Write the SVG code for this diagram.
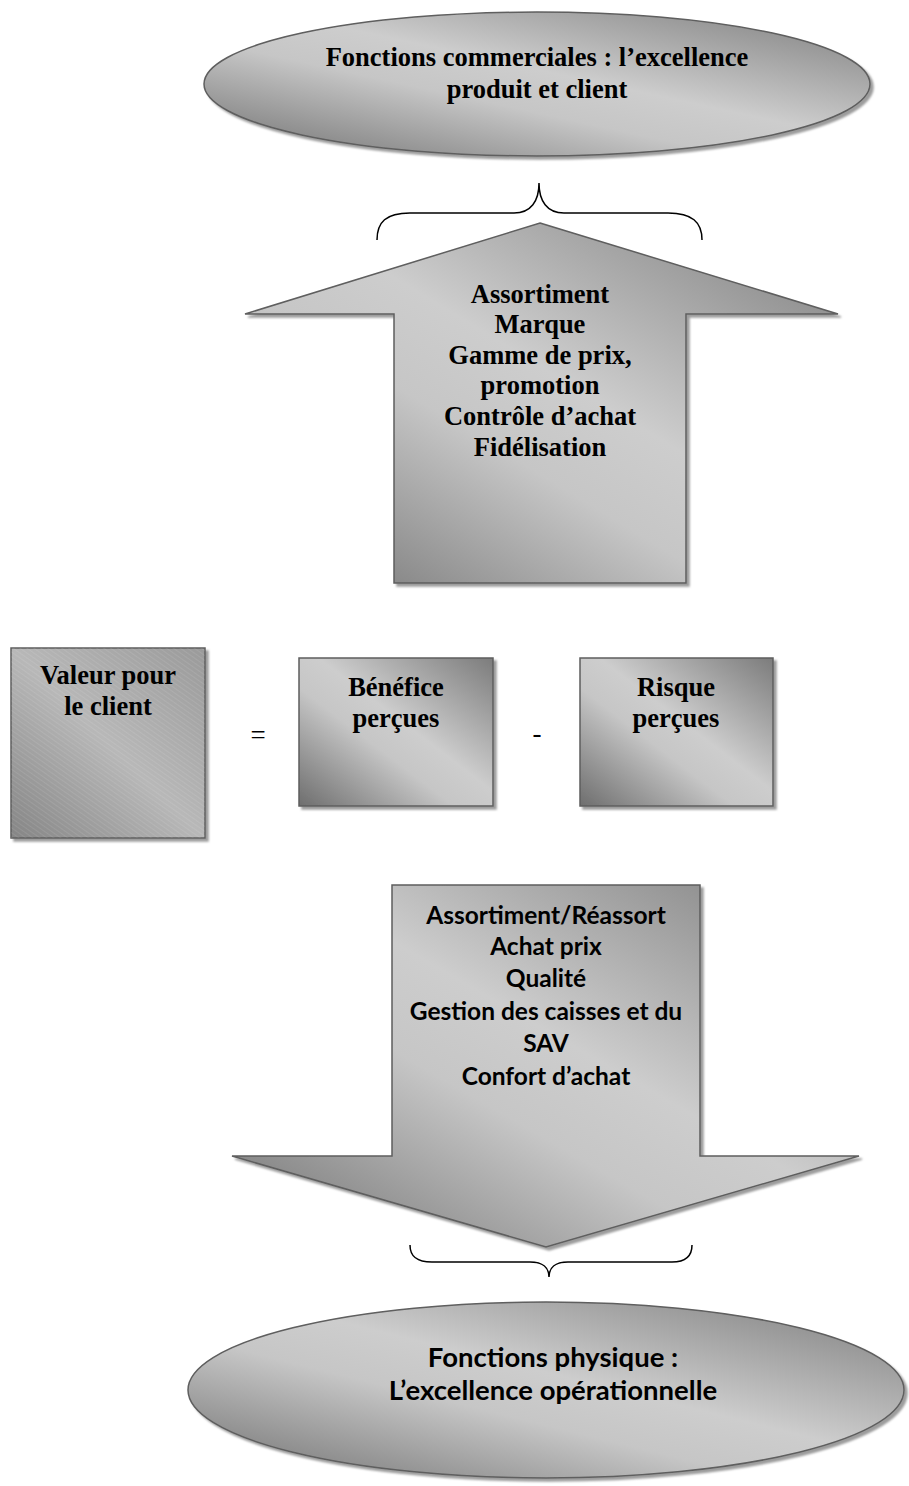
<svg xmlns="http://www.w3.org/2000/svg" width="909" height="1486" viewBox="0 0 909 1486">
  <style>
    .shape { stroke: #5e5e5e; stroke-width: 1.5; filter: url(#drop); }
    .serif { font-family: "Liberation Serif", "Times New Roman", serif; font-weight: bold; font-size: 26.5px; fill: #000; text-anchor: middle; }
    .sans { font-family: Lato, "Liberation Sans", sans-serif; font-weight: bold; font-size: 24.5px; fill: #000; text-anchor: middle; }
    .big { font-size: 27.5px; }
    .op { font-family: "Liberation Serif", "Times New Roman", serif; font-size: 27px; fill: #000; text-anchor: middle; }
    .brace { fill: none; stroke: #000; stroke-width: 1.5; }
  </style>
  <defs>
    <!-- metallic grey: dark at top-right and bottom-left corners, light along the middle -->
    <linearGradient id="metal" x1="1" y1="0" x2="0" y2="1">
      <stop offset="0" stop-color="#7c7c7c"/>
      <stop offset="0.45" stop-color="#cdcdcd"/>
      <stop offset="0.6" stop-color="#c6c6c6"/>
      <stop offset="1" stop-color="#6e6e6e"/>
    </linearGradient>
    <linearGradient id="brushed" x1="0" y1="1" x2="1" y2="0">
      <stop offset="0" stop-color="#858585"/>
      <stop offset="0.5" stop-color="#b8b8b8"/>
      <stop offset="1" stop-color="#9a9a9a"/>
    </linearGradient>
    <pattern id="hatch" width="4" height="4" patternUnits="userSpaceOnUse" patternTransform="rotate(-55)">
      <line x1="0" y1="0" x2="0" y2="4" stroke="#ffffff" stroke-opacity="0.18" stroke-width="1"/>
    </pattern>
    <filter id="drop" x="-5%" y="-5%" width="115%" height="115%">
      <feDropShadow dx="3" dy="3" stdDeviation="0.8" flood-color="#9c9c9c" flood-opacity="1"/>
    </filter>
  </defs>

  <!-- top ellipse -->
  <g id="commercial">
    <ellipse class="shape" cx="537" cy="84" rx="333" ry="72" fill="url(#metal)"/>
    <text class="serif" x="537" y="66">Fonctions commerciales : l’excellence</text>
    <text class="serif" x="537" y="98">produit et client</text>
  </g>

  <!-- braces -->
  <g id="connectors">
    <path class="brace" d="M377,240 C377,222 386,213 410,213 L514,213 C531,213 539,201 539,183 C539,201 547,213 564,213 L668,213 C692,213 702,222 702,240"/>
    <path class="brace" d="M410,1245 C410,1256 416,1262 432,1262 L530,1262 C543,1262 549,1268 549,1277 C549,1268 555,1262 568,1262 L672,1262 C686,1262 692,1256 692,1245"/>
  </g>

  <!-- up arrow -->
  <g id="up-arrow">
    <polygon class="shape" points="540,223 838,314 686,314 686,583 394,583 394,314 245,314" fill="url(#metal)"/>
    <text class="serif" x="540" y="303">Assortiment</text>
    <text class="serif" x="540" y="333">Marque</text>
    <text class="serif" x="540" y="364">Gamme de prix,</text>
    <text class="serif" x="540" y="394">promotion</text>
    <text class="serif" x="540" y="425">Contrôle d’achat</text>
    <text class="serif" x="540" y="456">Fidélisation</text>
  </g>

  <!-- value equation -->
  <g id="valeur">
    <rect class="shape" x="11" y="648" width="194" height="190" fill="url(#brushed)"/>
    <rect x="11" y="648" width="194" height="190" fill="url(#hatch)"/>
    <text class="serif" x="108" y="684">Valeur pour</text>
    <text class="serif" x="108" y="715">le client</text>
  </g>
  <text class="op" x="258" y="744">=</text>
  <g id="benefice">
    <rect class="shape" x="299" y="658" width="194" height="148" fill="url(#metal)"/>
    <text class="serif" x="396" y="696">Bénéfice</text>
    <text class="serif" x="396" y="727">perçues</text>
  </g>
  <text class="op" x="537" y="742">-</text>
  <g id="risque">
    <rect class="shape" x="580" y="658" width="193" height="148" fill="url(#metal)"/>
    <text class="serif" x="676" y="696">Risque</text>
    <text class="serif" x="676" y="727">perçues</text>
  </g>

  <!-- down arrow -->
  <g id="down-arrow">
    <polygon class="shape" points="392,885 700,885 700,1156 859,1156 546,1247 232,1156 392,1156" fill="url(#metal)"/>
    <text class="sans" x="546" y="924">Assortiment/Réassort</text>
    <text class="sans" x="546" y="955">Achat prix</text>
    <text class="sans" x="546" y="987">Qualité</text>
    <text class="sans" x="546" y="1020">Gestion des caisses et du</text>
    <text class="sans" x="546" y="1052">SAV</text>
    <text class="sans" x="546" y="1085">Confort d’achat</text>
  </g>

  <!-- bottom ellipse -->
  <g id="physique">
    <ellipse class="shape" cx="546" cy="1390" rx="358" ry="88" fill="url(#metal)"/>
    <text class="sans big" x="553" y="1367">Fonctions physique :</text>
    <text class="sans big" x="553" y="1400">L’excellence opérationnelle</text>
  </g>
</svg>
